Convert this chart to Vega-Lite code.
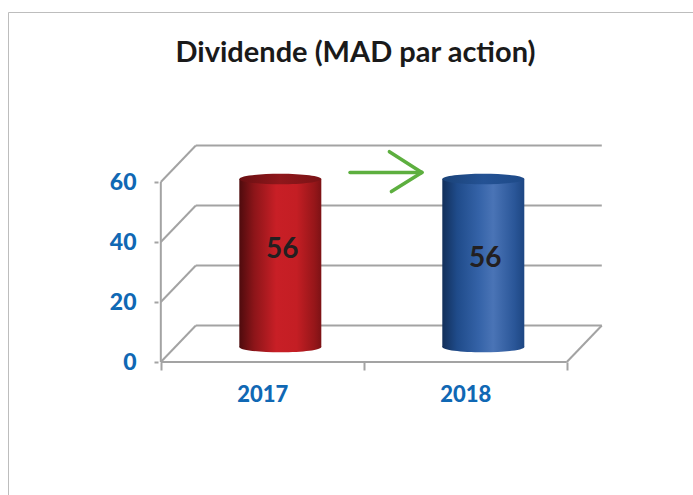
{
  "$schema": "https://vega.github.io/schema/vega-lite/v6.json",
  "width": 685,
  "height": 483,
  "autosize": {"type": "none"},
  "padding": {"left": 8, "top": 12, "right": 0, "bottom": 0},
  "background": "white",
  "config": {"view": {"stroke": "#bdbdbd", "strokeWidth": 1}},
  "title": {"text": "Dividende (MAD par action)", "font": "Lato", "fontSize": 29, "fontWeight": "bold", "color": "#1a1a1a", "anchor": "middle", "frame": "group", "offset": -56, "dx": 5},
  "datasets": {
    "dividend": [{"year": 2017, "value": 56}, {"year": 2018, "value": 56}],
    "levels": [{"v": 0}, {"v": 20}, {"v": 40}, {"v": 60}],
    "arrow": [
      {"x1": 2017.432, "y1": 63.2, "x2": 2017.786, "y2": 63.2},
      {"x1": 2017.626, "y1": 70.1, "x2": 2017.786, "y2": 63.2},
      {"x1": 2017.636, "y1": 56.8, "x2": 2017.786, "y2": 63.2}
    ]
  },
  "layer": [
    {
      "data": {"name": "levels"},
      "mark": {"type": "rule", "color": "#a3a3a3", "strokeWidth": 2, "xOffset": 35, "x2Offset": 35, "yOffset": -36.5},
      "encoding": {
        "x": {"datum": 2016.5, "type": "quantitative", "title": null, "scale": {"domain": [2015.7718, 2019.0971], "nice": false, "zero": false},
          "axis": {"orient": "bottom", "offset": -133, "title": null, "domain": false, "grid": false, "values": [2016.5, 2017, 2017.5, 2018, 2018.5],
            "labelExpr": "datum.value % 1 == 0 ? '' + datum.value : ''", "ticks": true, "tickSize": 8, "tickWidth": 2, "tickColor": "#a3a3a3",
            "tickOpacity": {"condition": {"test": "datum.value % 1 == 0", "value": 0}, "value": 1},
            "labelFont": "Lato", "labelFontSize": 22, "labelFontWeight": 900, "labelColor": "#1068b4", "labelPadding": 14, "labelFlush": false, "labelOverlap": false}},
        "x2": {"datum": 2018.5},
        "y": {"field": "v", "type": "quantitative", "title": null, "scale": {"domain": [-44.333, 116.667], "nice": false, "zero": false},
          "axis": {"orient": "left", "offset": -150, "title": null, "domain": false, "grid": false, "values": [0, 20, 40, 60],
            "ticks": true, "tickSize": 4, "tickWidth": 2, "tickColor": "#a3a3a3",
            "labelFont": "Lato", "labelFontSize": 23, "labelFontWeight": 900, "labelColor": "#1068b4", "labelPadding": 18, "labelFlush": false, "labelOverlap": false}}
      }
    },
    {
      "data": {"name": "levels"},
      "mark": {"type": "rule", "color": "#a3a3a3", "strokeWidth": 2, "x2Offset": 35, "y2Offset": -36.5},
      "encoding": {
        "x": {"datum": 2016.5, "type": "quantitative", "title": null},
        "x2": {"datum": 2016.5},
        "y": {"field": "v", "type": "quantitative", "title": null},
        "y2": {"field": "v"}
      }
    },
    {
      "data": {"values": [{}]},
      "mark": {"type": "rule", "color": "#a3a3a3", "strokeWidth": 2, "x2Offset": 35, "y2Offset": -36.5},
      "encoding": {
        "x": {"datum": 2018.5, "type": "quantitative", "title": null},
        "x2": {"datum": 2018.5},
        "y": {"datum": 0, "type": "quantitative", "title": null},
        "y2": {"datum": 0}
      }
    },
    {
      "data": {"values": [{}]},
      "mark": {"type": "rule", "color": "#a3a3a3", "strokeWidth": 2},
      "encoding": {
        "x": {"datum": 2016.5, "type": "quantitative", "title": null},
        "x2": {"datum": 2018.5},
        "y": {"datum": 0, "type": "quantitative", "title": null}
      }
    },
    {
      "data": {"values": [{}]},
      "mark": {"type": "rule", "color": "#a3a3a3", "strokeWidth": 2},
      "encoding": {
        "x": {"datum": 2016.5, "type": "quantitative", "title": null},
        "y": {"datum": 0, "type": "quantitative", "title": null},
        "y2": {"datum": 60}
      }
    },
    {
      "data": {"name": "dividend"},
      "transform": [{"filter": "datum.year == 2017"}],
      "layer": [
        {
          "mark": {"type": "point", "filled": true, "strokeWidth": 0, "opacity": 1, "size": 6724, "xOffset": 18, "yOffset": -15, "shape": "M-1,0A1,0.13,0,1,0,1,0A1,0.13,0,1,0,-1,0Z",
            "fill": {"gradient": "linear", "x1": 0, "y1": 0, "x2": 1, "y2": 0, "stops": [{"offset": 0, "color": "#4e0b0d"}, {"offset": 0.18, "color": "#8c1519"}, {"offset": 0.45, "color": "#c81f26"}, {"offset": 0.7, "color": "#c41e24"}, {"offset": 0.92, "color": "#951619"}, {"offset": 1, "color": "#7c1215"}]}},
          "encoding": {
            "x": {"field": "year", "type": "quantitative", "title": null},
            "y": {"datum": 0, "type": "quantitative", "title": null}
          }
        },
        {
          "mark": {"type": "bar", "width": 82, "xOffset": 18, "yOffset": -15, "y2Offset": -15,
            "fill": {"gradient": "linear", "x1": 0, "y1": 0, "x2": 1, "y2": 0, "stops": [{"offset": 0, "color": "#4e0b0d"}, {"offset": 0.18, "color": "#8c1519"}, {"offset": 0.45, "color": "#c81f26"}, {"offset": 0.7, "color": "#c41e24"}, {"offset": 0.92, "color": "#951619"}, {"offset": 1, "color": "#7c1215"}]}},
          "encoding": {
            "x": {"field": "year", "type": "quantitative", "title": null},
            "y": {"field": "value", "type": "quantitative", "title": null},
            "y2": {"datum": 0}
          }
        },
        {
          "mark": {"type": "point", "filled": true, "strokeWidth": 0, "opacity": 1, "size": 6724, "xOffset": 18, "yOffset": -15, "shape": "M-1,0A1,0.13,0,1,0,1,0A1,0.13,0,1,0,-1,0Z",
            "fill": {"gradient": "linear", "x1": 0, "y1": 0, "x2": 1, "y2": 0, "stops": [{"offset": 0, "color": "#6a0f12"}, {"offset": 0.5, "color": "#8f171b"}, {"offset": 1, "color": "#7a1316"}]}},
          "encoding": {
            "x": {"field": "year", "type": "quantitative", "title": null},
            "y": {"field": "value", "type": "quantitative", "title": null}
          }
        },
        {
          "mark": {"type": "text", "font": "Lato", "fontSize": 28, "fontWeight": "bold", "color": "#231f20", "dx": 20, "dy": 56, "baseline": "middle", "align": "center"},
          "encoding": {
            "x": {"field": "year", "type": "quantitative", "title": null},
            "y": {"field": "value", "type": "quantitative", "title": null},
            "text": {"field": "value", "type": "quantitative"}
          }
        }
      ]
    },
    {
      "data": {"name": "dividend"},
      "transform": [{"filter": "datum.year == 2018"}],
      "layer": [
        {
          "mark": {"type": "point", "filled": true, "strokeWidth": 0, "opacity": 1, "size": 6724, "xOffset": 18, "yOffset": -15, "shape": "M-1,0A1,0.13,0,1,0,1,0A1,0.13,0,1,0,-1,0Z",
            "fill": {"gradient": "linear", "x1": 0, "y1": 0, "x2": 1, "y2": 0, "stops": [{"offset": 0, "color": "#122f5a"}, {"offset": 0.18, "color": "#1f4b8a"}, {"offset": 0.45, "color": "#3563a8"}, {"offset": 0.62, "color": "#4a74b6"}, {"offset": 0.88, "color": "#2a5698"}, {"offset": 1, "color": "#1d4682"}]}},
          "encoding": {
            "x": {"field": "year", "type": "quantitative", "title": null},
            "y": {"datum": 0, "type": "quantitative", "title": null}
          }
        },
        {
          "mark": {"type": "bar", "width": 82, "xOffset": 18, "yOffset": -15, "y2Offset": -15,
            "fill": {"gradient": "linear", "x1": 0, "y1": 0, "x2": 1, "y2": 0, "stops": [{"offset": 0, "color": "#122f5a"}, {"offset": 0.18, "color": "#1f4b8a"}, {"offset": 0.45, "color": "#3563a8"}, {"offset": 0.62, "color": "#4a74b6"}, {"offset": 0.88, "color": "#2a5698"}, {"offset": 1, "color": "#1d4682"}]}},
          "encoding": {
            "x": {"field": "year", "type": "quantitative", "title": null},
            "y": {"field": "value", "type": "quantitative", "title": null},
            "y2": {"datum": 0}
          }
        },
        {
          "mark": {"type": "point", "filled": true, "strokeWidth": 0, "opacity": 1, "size": 6724, "xOffset": 18, "yOffset": -15, "shape": "M-1,0A1,0.13,0,1,0,1,0A1,0.13,0,1,0,-1,0Z",
            "fill": {"gradient": "linear", "x1": 0, "y1": 0, "x2": 1, "y2": 0, "stops": [{"offset": 0, "color": "#1b4379"}, {"offset": 0.5, "color": "#245294"}, {"offset": 1, "color": "#1e4a88"}]}},
          "encoding": {
            "x": {"field": "year", "type": "quantitative", "title": null},
            "y": {"field": "value", "type": "quantitative", "title": null}
          }
        },
        {
          "mark": {"type": "text", "font": "Lato", "fontSize": 28, "fontWeight": "bold", "color": "#231f20", "dx": 20, "dy": 65, "baseline": "middle", "align": "center"},
          "encoding": {
            "x": {"field": "year", "type": "quantitative", "title": null},
            "y": {"field": "value", "type": "quantitative", "title": null},
            "text": {"field": "value", "type": "quantitative"}
          }
        }
      ]
    },
    {
      "data": {"name": "arrow"},
      "mark": {"type": "rule", "color": "#5daf3f", "strokeWidth": 3.5, "strokeCap": "round"},
      "encoding": {
        "x": {"field": "x1", "type": "quantitative", "title": null},
        "x2": {"field": "x2"},
        "y": {"field": "y1", "type": "quantitative", "title": null},
        "y2": {"field": "y2"}
      }
    }
  ]
}
